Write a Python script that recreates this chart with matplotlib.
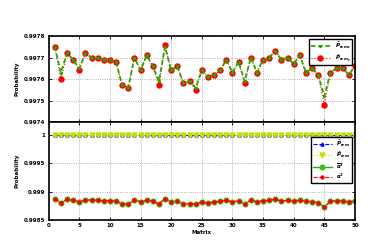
import numpy as np
import matplotlib.pyplot as plt

# matrix index
matrix = np.arange(1, 51)

# top panel: probability per matrix
p_hat_s = [0.99775, 0.99760, 0.99772, 0.99769, 0.99764, 0.99772, 0.99770, 0.99770, 0.99769, 0.99769,
           0.99768, 0.99757, 0.99756, 0.99770, 0.99764, 0.99771, 0.99766, 0.99757, 0.99776, 0.99764,
           0.99766, 0.99758, 0.99759, 0.99755, 0.99764, 0.99761, 0.99762, 0.99764, 0.99769, 0.99763,
           0.99768, 0.99758, 0.99770, 0.99763, 0.99769, 0.99770, 0.99773, 0.99769, 0.99770, 0.99767,
           0.99771, 0.99763, 0.99765, 0.99762, 0.99748, 0.99763, 0.99765, 0.99765, 0.99762, 0.99766]
p_bar_s = [0.99775, 0.99763, 0.99772, 0.99769, 0.99765, 0.99772, 0.99770, 0.99770, 0.99769, 0.99769,
           0.99768, 0.99757, 0.99756, 0.99770, 0.99764, 0.99771, 0.99766, 0.99759, 0.99775, 0.99764,
           0.99766, 0.99758, 0.99759, 0.99756, 0.99764, 0.99761, 0.99762, 0.99764, 0.99769, 0.99763,
           0.99768, 0.99759, 0.99770, 0.99763, 0.99769, 0.99770, 0.99773, 0.99769, 0.99770, 0.99767,
           0.99771, 0.99763, 0.99765, 0.99762, 0.99752, 0.99763, 0.99765, 0.99765, 0.99762, 0.99766]

# bottom panel
p_bar = [1.0] * 50
p_hat = [1.0] * 50
alpha_bar = [0.998876, 0.998799, 0.998864, 0.998846, 0.998817, 0.998852, 0.998852, 0.998846, 0.998840, 0.998840,
             0.998834, 0.998781, 0.998776, 0.998852, 0.998823, 0.998846, 0.998834, 0.998781, 0.998876, 0.998823,
             0.998834, 0.998787, 0.998787, 0.998781, 0.998817, 0.998799, 0.998817, 0.998829, 0.998846, 0.998817,
             0.998840, 0.998776, 0.998852, 0.998817, 0.998840, 0.998846, 0.998864, 0.998834, 0.998846, 0.998829,
             0.998852, 0.998829, 0.998823, 0.998805, 0.998728, 0.998829, 0.998834, 0.998834, 0.998817, 0.998834]
alpha_hat = alpha_bar

plt.rcParams['font.size'] = 4
plt.rcParams['font.weight'] = 'bold'
plt.rcParams['axes.labelweight'] = 'bold'

fig = plt.figure(figsize=(3.74, 2.45), dpi=100)
ax1 = fig.add_axes([0.130, 0.502, 0.819, 0.351])
ax2 = fig.add_axes([0.130, 0.102, 0.819, 0.400])

# top
ax1.plot(matrix, p_hat_s, color='red', ls=':', lw=0.8, marker='o', ms=3.6,
         mfc='red', mec='red', label=r'$\hat{P}_{rcm_s}$')
ax1.plot(matrix, p_bar_s, color='#22aa00', ls='--', lw=1.3, marker='o', ms=1.3,
         mfc='#22aa00', mec='#22aa00', dashes=(2.5, 1.5), label=r'$\bar{P}_{rcm_s}$')
ax1.set_ylim(0.9974, 0.9978)
ax1.set_yticks([0.9974, 0.9975, 0.9976, 0.9977, 0.9978])
ax1.set_yticklabels(['0.9974', '0.9975', '0.9976', '0.9977', '0.9978'])
h, l = ax1.get_legend_handles_labels()
leg1 = ax1.legend(h[::-1], l[::-1], loc='upper right', fontsize=4, fancybox=False,
                  edgecolor='black', framealpha=1, handlelength=3.5, borderpad=0.3,
                  labelspacing=0.2)
leg1.get_frame().set_linewidth(1.0)

# bottom
ax2.plot(matrix, p_bar, color='blue', ls='--', lw=0.8, marker='^', ms=2.2,
         mfc='blue', mec='blue', label=r'$\bar{P}_{rcm}$')
ax2.plot(matrix, p_hat, color='#bfe000', ls=':', lw=0.8, marker='v', ms=3.5,
         mfc='#bfe000', mec='#bfe000', label=r'$\hat{P}_{rcm}$')
ax2.plot(matrix, alpha_bar, color='#33aa11', ls='-', lw=1.0, marker='o', ms=3.4,
         mfc='#44bb22', mec='#44bb22', label=r'$\overline{\alpha}^2$')
ax2.plot(matrix, alpha_hat, color='red', ls='--', lw=0.8, marker='o', ms=2.1,
         mfc='red', mec='red', label=r'$\widehat{\alpha}^2$')
ax2.set_ylim(0.9985, 1.000225)
ax2.set_yticks([0.9985, 0.999, 0.9995, 1.0])
ax2.set_yticklabels(['0.9985', '0.999', '0.9995', '1'])
leg2 = ax2.legend(loc='upper right', bbox_to_anchor=(1.0, 0.88), fontsize=4, fancybox=False,
                  edgecolor='black', framealpha=1, handlelength=3.5, borderpad=0.3,
                  labelspacing=0.2)
leg2.get_frame().set_linewidth(1.0)
ax2.set_xlabel('Matrix', labelpad=1)

for ax in (ax1, ax2):
    ax.set_xlim(0, 50)
    ax.set_xticks(range(0, 51, 5))
    ax.grid(True, ls=':', color='0.6', lw=0.6)
    ax.tick_params(direction='in', top=True, right=True, length=2, width=0.6, pad=2.5)
    for s in ax.spines.values():
        s.set_linewidth(1.2)
    ax.set_ylabel('Probability', labelpad=3)
    for t in ax.get_xticklabels() + ax.get_yticklabels():
        t.set_fontweight('bold')

ax1.tick_params(labelbottom=False)

fig.savefig('out.png', dpi=100)
